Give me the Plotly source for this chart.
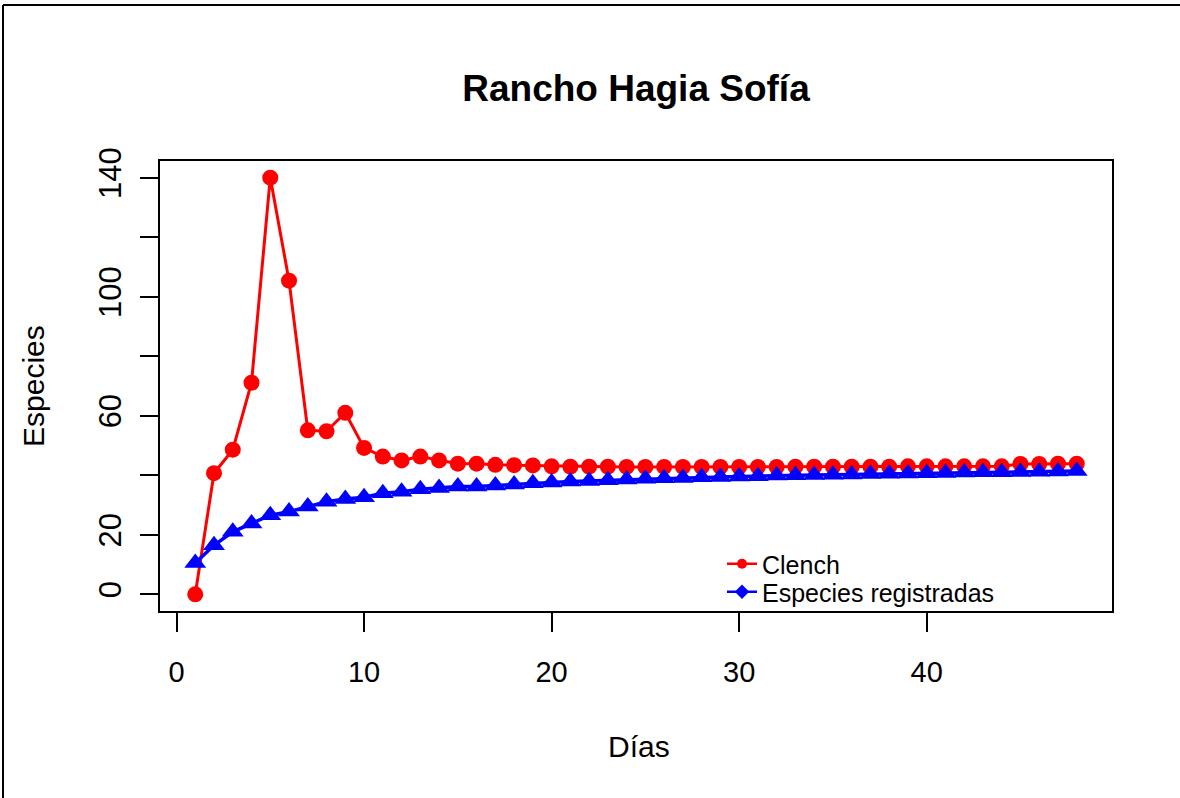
import plotly.graph_objects as go

dias = list(range(1, 49))
clench = [0, 40.7, 48.6, 71.1, 140.0, 105.4, 55.1, 54.8, 61.0, 49.2,
          46.3, 45.0, 46.3, 45.0, 43.9, 43.9, 43.5, 43.4, 43.3, 43.0,
          42.9, 42.9, 42.9, 42.8, 42.8, 42.8, 42.8, 42.8, 42.8, 42.8,
          42.8, 42.8, 42.9, 42.9, 42.9, 42.9, 42.9, 42.9, 43.0, 43.0,
          43.0, 43.0, 43.0, 43.0, 43.8, 43.8, 43.9, 43.9]
registradas = [10.5, 16.5, 21.0, 23.8, 26.6, 27.8, 29.5, 31.1, 32.0, 32.6,
               34.0, 34.5, 35.3, 35.7, 36.2, 36.2, 36.6, 36.9, 37.3, 37.6,
               37.9, 38.1, 38.3, 38.6, 38.8, 39.0, 39.1, 39.3, 39.4, 39.6,
               39.7, 39.9, 40.0, 40.1, 40.2, 40.3, 40.4, 40.5, 40.6, 40.7,
               40.8, 40.9, 41.0, 41.0, 41.1, 41.2, 41.3, 41.4]

x_ticks = [0, 10, 20, 30, 40]
y_ticks = [0, 20, 40, 60, 80, 100, 120, 140]
y_ticktext = ["0", "20", "", "60", "", "100", "", "140"]

FONT = "Liberation Sans, Arial, Helvetica, sans-serif"

fig = go.Figure()
fig.add_trace(go.Scatter(x=dias, y=clench, mode="lines+markers",
                         line=dict(color="#ff0000", width=3),
                         marker=dict(symbol="circle", size=16, color="#ff0000"),
                         showlegend=False, name="Clench"))
fig.add_trace(go.Scatter(x=dias, y=registradas, mode="lines+markers",
                         line=dict(color="#0000ff", width=3.5),
                         marker=dict(symbol="triangle-up", size=19, color="#0000ff"),
                         showlegend=False, name="Especies registradas"))
# legend-only entries
fig.add_trace(go.Scatter(x=[None], y=[None], mode="lines+markers",
                         line=dict(color="#ff0000", width=2.5),
                         marker=dict(symbol="circle", size=10, color="#ff0000"),
                         name="Clench", legend="legend"))
fig.add_trace(go.Scatter(x=[None], y=[None], mode="lines+markers",
                         line=dict(color="#0000ff", width=2.5),
                         marker=dict(symbol="diamond", size=11, color="#0000ff"),
                         name="Especies registradas", legend="legend2"))

axis_common = dict(showgrid=False, zeroline=False, showline=True, mirror=True,
                   linecolor="black", linewidth=2, ticks="outside",
                   tickcolor="black", tickwidth=2)

fig.update_xaxes(range=[-0.88, 49.88], tickvals=x_ticks,
                 ticktext=[str(v) for v in x_ticks], ticklen=19,
                 ticklabelstandoff=15,
                 tickfont=dict(family=FONT, size=29, color="black"), **axis_common)
fig.update_yaxes(range=[-5.6, 145.6], tickvals=y_ticks, ticktext=y_ticktext,
                 ticklen=18, tickangle=-90, ticklabelstandoff=7,
                 tickfont=dict(family=FONT, size=31, color="black"), **axis_common)

L, T, W, H = 160, 161, 952, 450
def px(xp):
    return (xp - L) / W
def py(yp):
    return (T + H - yp) / H

leg_common = dict(xanchor="left", yanchor="top", bgcolor="rgba(0,0,0,0)",
                  borderwidth=0, font=dict(family=FONT, size=25, color="black"),
                  itemwidth=30)

fig.update_layout(
    width=1180, height=798,
    margin=dict(l=L, r=1180 - L - W, t=T, b=798 - T - H, pad=0),
    paper_bgcolor="white", plot_bgcolor="white",
    font=dict(family=FONT, color="black"),
    title=dict(text="<b>Rancho Hagia Sofía</b>", x=0.5, xref="paper",
               y=1 - 88 / 798, yref="container", yanchor="middle", xanchor="center",
               font=dict(family=FONT, size=37, color="black")),
    legend=dict(x=px(722), y=py(541), **leg_common),
    legend2=dict(x=px(722), y=py(569), **leg_common),
    annotations=[
        dict(text="Especies", xref="paper", yref="paper", x=px(33), y=py(386),
             textangle=-90, showarrow=False, xanchor="center", yanchor="middle",
             font=dict(family=FONT, size=30, color="black")),
        dict(text="Días", xref="paper", yref="paper", x=px(639), y=py(746),
             showarrow=False, xanchor="center", yanchor="middle",
             font=dict(family=FONT, size=30, color="black")),
    ],
    shapes=[
        dict(type="line", xref="paper", yref="paper", x0=px(3), y0=py(5),
             x1=px(1180), y1=py(5), line=dict(color="black", width=2)),
        dict(type="line", xref="paper", yref="paper", x0=px(3), y0=py(5),
             x1=px(3), y1=py(798), line=dict(color="black", width=2)),
    ],
)

fig.write_html("out.html", config={"displayModeBar": False},
               post_script="document.body.style.margin='0';document.body.style.overflow='hidden';")
